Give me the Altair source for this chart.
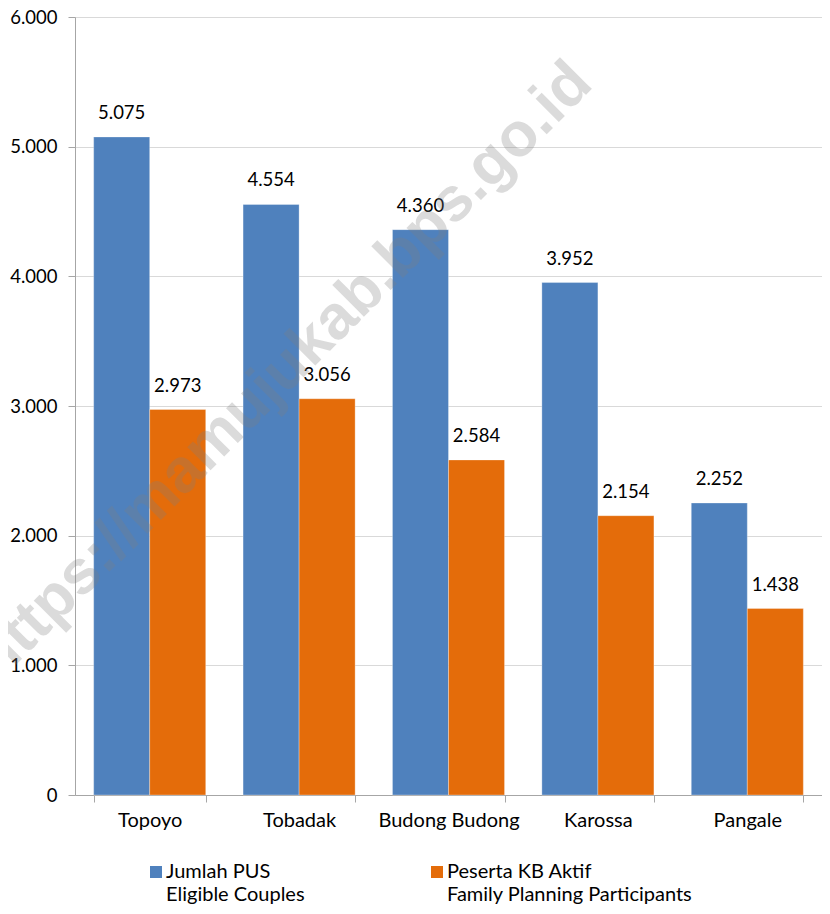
import altair as alt
import pandas as pd

categories = ["Topoyo", "Tobadak", "Budong Budong", "Karossa", "Pangale"]
series = ["Jumlah PUS|Eligible Couples", "Peserta KB Aktif|Family Planning Participants"]
pus = [5075, 4554, 4360, 3952, 2252]
kb = [2973, 3056, 2584, 2154, 1438]
colors = ["#4f81bd", "#e46c0a"]
y_ticks = [0, 1000, 2000, 3000, 4000, 5000, 6000]
watermark = "https://mamujukab.bps.go.id"

rows = []
for c, a, b in zip(categories, pus, kb):
    rows.append({"kecamatan": c, "seri": series[0], "nilai": a})
    rows.append({"kecamatan": c, "seri": series[1], "nilai": b})
df = pd.DataFrame(rows)

FONT = "Lato"

x_enc = alt.X(
    "kecamatan:N",
    sort=categories,
    title=None,
    scale=alt.Scale(paddingInner=0.25, paddingOuter=0.125),
    axis=alt.Axis(
        tickBand="extent",
        labelAngle=0,
        labelFontSize=20,
        labelFont=FONT,
        labelColor="#000000",
        labelPadding=8,
        tickSize=7,
        tickColor="#a6a6a6",
        domainColor="#a6a6a6",
        grid=False,
    ),
)
xoff = alt.XOffset("seri:N", sort=series)

base = alt.Chart(df).encode(x=x_enc, xOffset=xoff)

bars = base.mark_bar(stroke="#ffffff", strokeWidth=0.6, strokeOpacity=0.5).encode(
    y=alt.Y(
        "nilai:Q",
        title=None,
        scale=alt.Scale(domain=[0, 6000]),
        axis=alt.Axis(
            values=y_ticks,
            labelExpr="replace(format(datum.value, ','), ',', '.')",
            labelFontSize=18.5,
            labelFont=FONT,
            labelColor="#000000",
            labelPadding=11,
            tickSize=7,
            tickColor="#a6a6a6",
            domainColor="#a6a6a6",
            gridColor="#d9d9d9",
        ),
    ),
    color=alt.Color(
        "seri:N",
        sort=series,
        scale=alt.Scale(domain=series, range=colors),
        legend=alt.Legend(
            title=None,
            orient="none",
            legendX=71,
            legendY=845,
            direction="horizontal",
            symbolType="square",
            symbolSize=144,
            symbolStrokeWidth=0,
            labelExpr="split(datum.label, '|')",
            labelFont=FONT,
            labelFontSize=20,
            labelColor="#000000",
            labelBaseline="middle",
            labelOffset=0,
            labelLimit=400,
            columnPadding=122,
            padding=0,
        ),
    ),
)

labels = base.mark_text(baseline="bottom", dy=-14, fontSize=18.5, font=FONT, color="#000000").transform_calculate(
    lbl="replace(format(datum.nilai, ','), ',', '.')"
).encode(y="nilai:Q", text="lbl:N")

wm = alt.Chart(pd.DataFrame({"t": [watermark]})).mark_text(
    angle=315, fontSize=62, font="Liberation Sans", fontWeight="bold",
    color="#808080", opacity=0.28, align="center", baseline="middle",
).encode(text="t:N", x=alt.value(208), y=alt.value(354))

chart = alt.layer(bars, labels, wm).properties(
    width=747, height=778,
    autosize=alt.AutoSizeParams(type="none"),
    padding={"left": 67, "top": 9, "right": 0, "bottom": 111},
).configure_view(stroke=None).configure(
    style={"guide-label": {"lineHeight": 23}}
)

chart.save("out.html", embed_options={"renderer": "svg", "actions": False})
